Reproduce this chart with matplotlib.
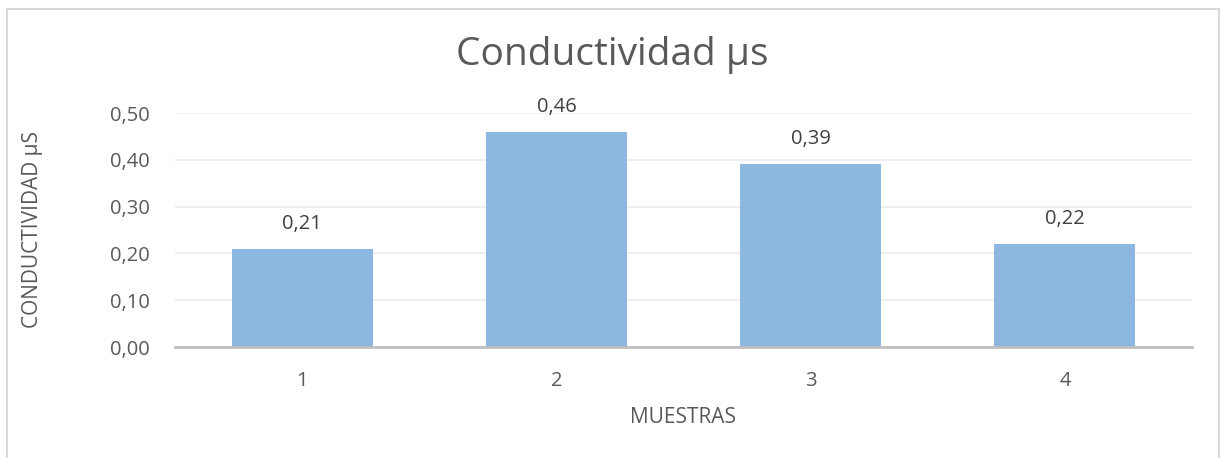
import numpy as np
import matplotlib.pyplot as plt
from matplotlib.lines import Line2D

muestras = ["1", "2", "3", "4"]
conductividad = [0.21, 0.46, 0.39, 0.22]
value_labels = ["0,21", "0,46", "0,39", "0,22"]
y_ticks = [0.0, 0.1, 0.2, 0.3, 0.4, 0.5]
y_tick_labels = ["0,00", "0,10", "0,20", "0,30", "0,40", "0,50"]

plt.rcParams['font.family'] = ['Open Sans', 'DejaVu Sans']
text_col = "#595959"

fig = plt.figure(figsize=(12.22, 4.58), dpi=100)
W, H = 1222, 458
ax = fig.add_axes([175 / W, 1 - 347 / H, (1192 - 175) / W, (347 - 113) / H])

x = np.arange(len(muestras))
ax.bar(x, conductividad, width=0.555, color="#8db7e1", zorder=2)
for xi, v, lab in zip(x, conductividad, value_labels):
    ax.annotate(lab, (xi, v), xytext=(0, 25), textcoords="offset pixels",
                ha="center", va="center", fontsize=14.5, color="#404040")

ax.set_xlim(-0.5, 3.5)
ax.set_ylim(0, 0.5)
ax.set_yticks(y_ticks)
ax.set_yticklabels(y_tick_labels)
ax.set_xticks(x)
ax.set_xticklabels(muestras)
ax.tick_params(axis="both", length=0, labelsize=14.5, colors=text_col)
ax.tick_params(axis="y", pad=18)
ax.tick_params(axis="x", pad=17)
ax.grid(axis="y", color="#eeeeee", linewidth=1.5, zorder=0)
for s in ["top", "right", "left"]:
    ax.spines[s].set_visible(False)
ax.spines["bottom"].set_color("#bfbfbf")
ax.spines["bottom"].set_linewidth(2)
ax.spines["bottom"].set_zorder(3)

ax.set_xlabel("MUESTRAS", fontsize=15, color=text_col, labelpad=12)
fig.text(33 / W, 1 - 230 / H, "CONDUCTIVIDAD µS", rotation=90, ha="center",
         va="center", fontsize=15, color=text_col)
fig.text(612 / W, 1 - 55 / H, "Conductividad µs", ha="center", va="center",
         fontsize=28, color=text_col)

# chart border
bc = "#d9d9d9"
fig.add_artist(Line2D([7 / W, 7 / W], [0, 1 - 9 / H], color=bc, lw=1.5))
fig.add_artist(Line2D([7 / W, 1219 / W], [1 - 9 / H, 1 - 9 / H], color=bc, lw=1.5))
fig.add_artist(Line2D([1219 / W, 1219 / W], [0, 1 - 9 / H], color=bc, lw=1.5))

fig.savefig("out.png", dpi=100)
